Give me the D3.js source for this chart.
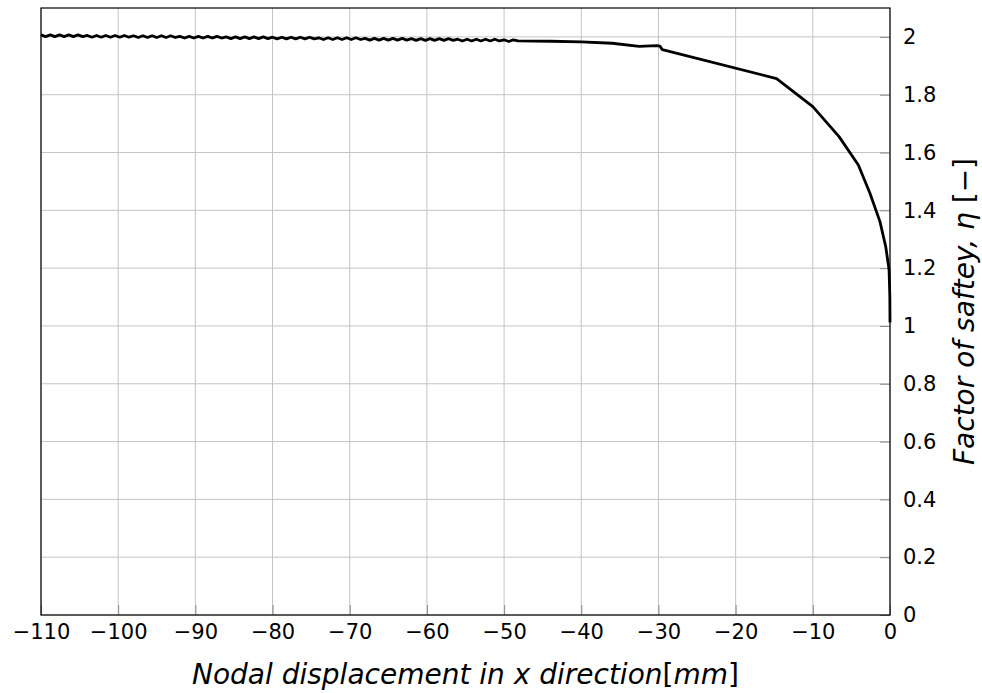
<!DOCTYPE html>
<html>
<head>
<meta charset="utf-8">
<script src="https://cdn.jsdelivr.net/npm/d3@7"></script>
<style>
  body { margin: 0; background: #fff; }
  svg { display: block; font-family: "DejaVu Sans", sans-serif; }
</style>
</head>
<body>
<div id="chart"></div>
<script>
// wavy part of the curve (load steps)
var wavyX = [
  -110.0, -109.4, -108.8, -108.2, -107.6, -107.0, -106.4, -105.8, -105.2, -104.6,
  -104.0, -103.4, -102.8, -102.2, -101.6, -101.0, -100.4, -99.8, -99.2, -98.6,
  -98.0, -97.4, -96.8, -96.2, -95.6, -95.0, -94.4, -93.8, -93.2, -92.6,
  -92.0, -91.4, -90.8, -90.2, -89.6, -89.0, -88.4, -87.8, -87.2, -86.6,
  -86.0, -85.4, -84.8, -84.2, -83.6, -83.0, -82.4, -81.8, -81.2, -80.6,
  -80.0, -79.4, -78.8, -78.2, -77.6, -77.0, -76.4, -75.8, -75.2, -74.6,
  -74.0, -73.4, -72.8, -72.2, -71.6, -71.0, -70.4, -69.8, -69.2, -68.6,
  -68.0, -67.4, -66.8, -66.2, -65.6, -65.0, -64.4, -63.8, -63.2, -62.6,
  -62.0, -61.4, -60.8, -60.2, -59.6, -59.0, -58.4, -57.8, -57.2, -56.6,
  -56.0, -55.4, -54.8, -54.2, -53.6, -53.0, -52.4, -51.8, -51.2, -50.6,
  -50.0, -49.4, -48.8, -48.2
];
var wavyY = [
  2.007, 2.001, 2.007, 2.001, 2.007, 2.001, 2.007, 2.001, 2.007, 2.001,
  2.005, 1.999, 2.005, 1.999, 2.005, 1.999, 2.005, 1.999, 2.005, 1.999,
  2.004, 1.998, 2.004, 1.998, 2.004, 1.998, 2.004, 1.998, 2.004, 1.998,
  2.002, 1.996, 2.002, 1.996, 2.002, 1.996, 2.002, 1.996, 2.002, 1.996,
  2.000, 1.994, 2.000, 1.994, 2.000, 1.994, 2.000, 1.994, 2.000, 1.994,
  1.999, 1.993, 1.999, 1.993, 1.999, 1.993, 1.999, 1.993, 1.999, 1.993,
  1.997, 1.991, 1.997, 1.991, 1.997, 1.991, 1.997, 1.991, 1.997, 1.991,
  1.995, 1.989, 1.995, 1.989, 1.995, 1.989, 1.995, 1.989, 1.995, 1.989,
  1.994, 1.988, 1.994, 1.988, 1.994, 1.988, 1.994, 1.988, 1.994, 1.988,
  1.992, 1.986, 1.992, 1.986, 1.992, 1.986, 1.992, 1.986, 1.992, 1.986,
  1.990, 1.984, 1.990, 1.986
];

// smooth part from about -48 mm to 0
var tailX = [-44.0, -40.0, -36.0, -32.5, -30.2, -29.8, -29.5, -14.7, -10.0, -6.6, -4.1, -2.6, -1.3, -0.55, -0.12, -0.02, 0.0];
var tailY = [1.985, 1.983, 1.978, 1.967, 1.970, 1.968, 1.956, 1.856, 1.759, 1.655, 1.557, 1.459, 1.361, 1.274, 1.194, 1.100, 1.012];

var xTicks = [-110, -100, -90, -80, -70, -60, -50, -40, -30, -20, -10, 0];
var yTicks = [0, 0.2, 0.4, 0.6, 0.8, 1, 1.2, 1.4, 1.6, 1.8, 2];

var svgWidth = 982;
var svgHeight = 693;

var margin = { top: 8, right: 92, bottom: 78, left: 41 };
var width = svgWidth - margin.left - margin.right;
var height = svgHeight - margin.top - margin.bottom;

var svg = d3.select("#chart")
  .append("svg")
  .attr("width", svgWidth)
  .attr("height", svgHeight);

var chartGroup = svg.append("g")
  .attr("transform", `translate(${margin.left}, ${margin.top})`);

var xScale = d3.scaleLinear().domain([-110, 0]).range([0, width]);
var yScale = d3.scaleLinear().domain([0, 2.1]).range([height, 0]);

// grid
chartGroup.append("g")
  .selectAll("line.vgrid")
  .data(xTicks)
  .enter()
  .append("line")
  .attr("x1", d => xScale(d))
  .attr("x2", d => xScale(d))
  .attr("y1", 0)
  .attr("y2", height)
  .attr("stroke", "#c4c4c4")
  .attr("stroke-width", 1);

chartGroup.append("g")
  .selectAll("line.hgrid")
  .data(yTicks)
  .enter()
  .append("line")
  .attr("x1", 0)
  .attr("x2", width)
  .attr("y1", d => yScale(d))
  .attr("y2", d => yScale(d))
  .attr("stroke", "#c4c4c4")
  .attr("stroke-width", 1);

// axes, ticks pointing inward
var bottomAxis = d3.axisBottom(xScale)
  .tickValues(xTicks)
  .tickSizeInner(-10)
  .tickSizeOuter(0)
  .tickPadding(9);

var rightAxis = d3.axisRight(yScale)
  .tickValues(yTicks)
  .tickFormat(d => String(+d.toFixed(1)))
  .tickSizeInner(-10)
  .tickSizeOuter(0)
  .tickPadding(13);

var xAxis = chartGroup.append("g")
  .attr("transform", `translate(0, ${height})`)
  .call(bottomAxis);

var yAxis = chartGroup.append("g")
  .attr("transform", `translate(${width}, 0)`)
  .call(rightAxis);

[xAxis, yAxis].forEach(function(ax) {
  ax.select(".domain").remove();
  ax.selectAll(".tick line").attr("stroke", "#8a8a8a").attr("stroke-width", 1);
  ax.selectAll(".tick text")
    .attr("fill", "#000")
    .attr("font-size", "21px")
    .attr("font-family", "DejaVu Sans, sans-serif");
});

// frame
chartGroup.append("rect")
  .attr("x", 0)
  .attr("y", 0)
  .attr("width", width)
  .attr("height", height)
  .attr("fill", "none")
  .attr("stroke", "#000")
  .attr("stroke-width", 1.2);

// curve
var points = wavyX.map((x, i) => [x, wavyY[i]])
  .concat(tailX.map((x, i) => [x, tailY[i]]));

var line = d3.line()
  .x(d => xScale(d[0]))
  .y(d => yScale(d[1]));

chartGroup.append("path")
  .datum(points)
  .attr("d", line)
  .attr("fill", "none")
  .attr("stroke", "#000")
  .attr("stroke-width", 2.8)
  .attr("stroke-linejoin", "round");

// axis titles
var xTitle = svg.append("text")
  .attr("x", margin.left + width / 2)
  .attr("y", 684)
  .attr("text-anchor", "middle")
  .attr("font-size", "28px")
  .attr("font-style", "italic");
xTitle.append("tspan").text("Nodal displacement in x direction");
xTitle.append("tspan").attr("font-style", "normal").text("[");
xTitle.append("tspan").text("mm");
xTitle.append("tspan").attr("font-style", "normal").text("]");

var yTitle = svg.append("text")
  .attr("transform", `translate(974, ${margin.top + height / 2}) rotate(-90)`)
  .attr("text-anchor", "middle")
  .attr("font-size", "28px")
  .attr("font-style", "italic");
yTitle.append("tspan").text("Factor of saftey, η ");
yTitle.append("tspan").attr("font-style", "normal").text("[−]");
</script>
</body>
</html>
